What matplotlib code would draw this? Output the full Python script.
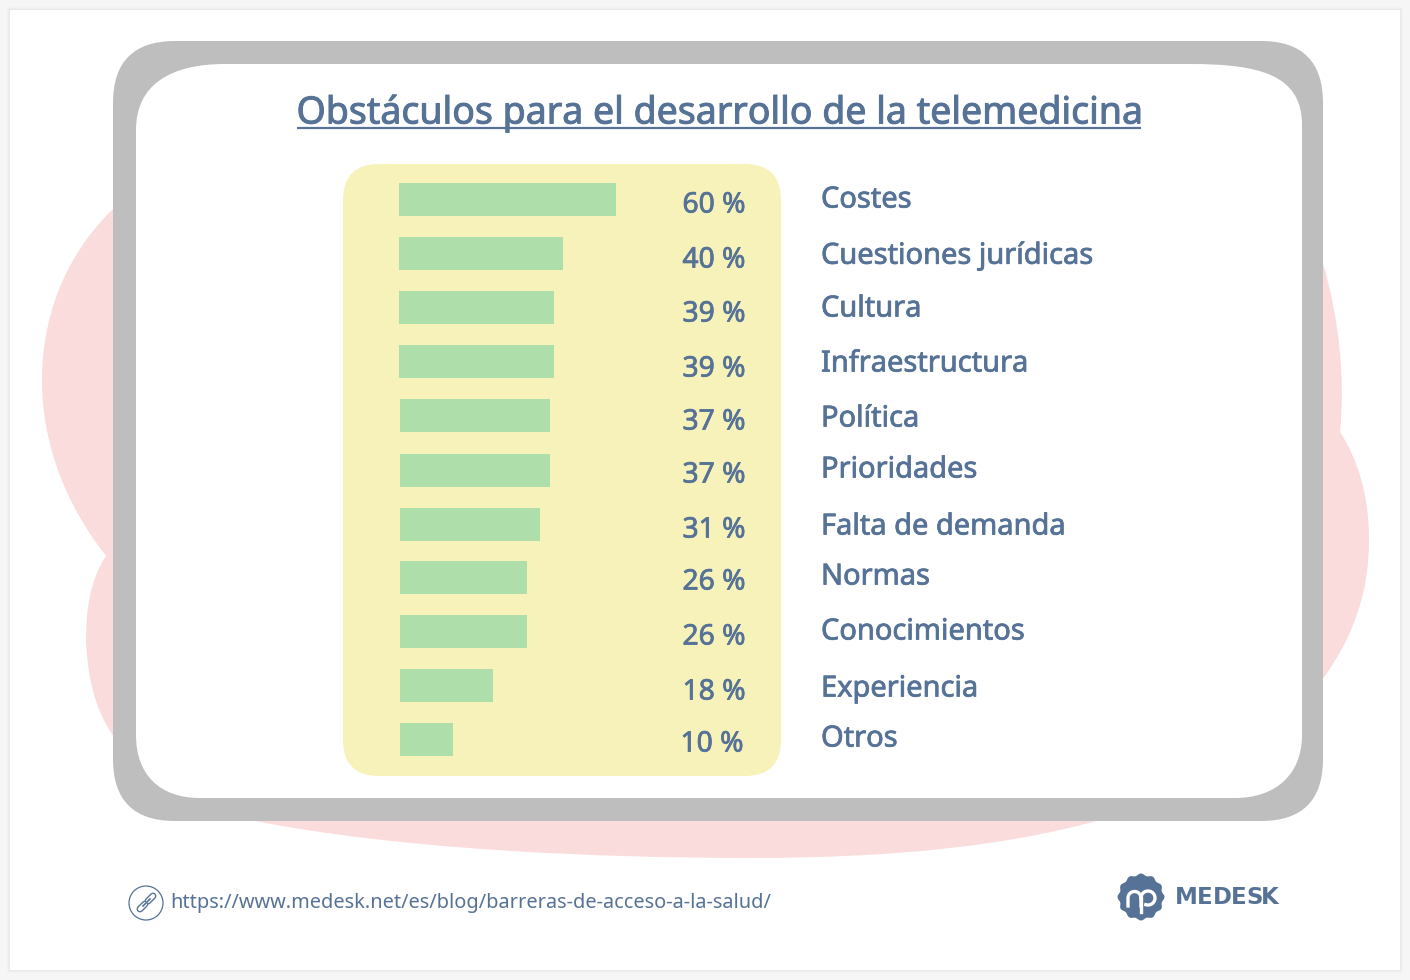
import numpy as np
import matplotlib
matplotlib.use('Agg')
import matplotlib.pyplot as plt
import matplotlib.patheffects as pe
from matplotlib.patches import FancyBboxPatch, PathPatch, Rectangle, Circle, Polygon
from matplotlib.path import Path

W, H = 1410, 980
plt.rcParams['font.family'] = ['Noto Sans', 'DejaVu Sans']

# chart data
categories = ['Costes', 'Cuestiones jurídicas', 'Cultura', 'Infraestructura', 'Política',
              'Prioridades', 'Falta de demanda', 'Normas', 'Conocimientos', 'Experiencia', 'Otros']
percent_labels = ['60 %', '40 %', '39 %', '39 %', '37 %', '37 %', '31 %', '26 %', '26 %', '18 %', '10 %']
# the drawn bars are not proportional to their labels, so lengths are kept apart (px)
bar_lengths = [217, 164, 155, 155, 150, 150, 140, 127, 127, 93, 53]
bar_tops = [183, 237, 291, 345, 399, 454, 508, 561, 615, 669, 723]
bar_lefts = [399, 399, 399, 399, 400, 400, 400, 400, 400, 400, 400]
percent_y = [205, 260, 314, 369, 422, 475, 530, 582, 637, 692, 744]
label_y = [200, 256, 309, 364, 419, 470, 527, 577, 632, 689, 739]

TEXT = '#567397'
PINK = '#f9dcdb'
GREY = '#bebebe'
YELLOW = '#f7f2b9'
GREEN = '#aedfab'

# Noto Sans has no semibold here, a thin outline thickens it
SEMI = [pe.withStroke(linewidth=0.55, foreground=TEXT)]


def rounded(ax, x0, y0, x1, y1, r, color, z):
    p = FancyBboxPatch((x0 + r, y0 + r), x1 - x0 - 2 * r, y1 - y0 - 2 * r,
                       boxstyle=f'round,pad={r},rounding_size={r}',
                       fc=color, ec='none', zorder=z)
    ax.add_patch(p)


fig = plt.figure(figsize=(W / 100, H / 100), dpi=100, facecolor='#f6f6f6')
ax = fig.add_axes([0, 0, 1, 1])
ax.set_xlim(0, W)
ax.set_ylim(H, 0)
ax.axis('off')

# page shadow
for i, c in enumerate(['#f3f3f3', '#eeeeee', '#e9e9e9']):
    ax.add_patch(Rectangle((7 + i, 7 + i), W - 14 - 2 * i, H - 14 - 2 * i, fc=c, ec='none', zorder=1))
ax.add_patch(Rectangle((10, 10), 1390, 960, fc='white', ec='none', zorder=2))

# pink blob behind the frame
blob_v = [(135, 190),
          (70, 240), (42, 310), (42, 380),
          (42, 450), (70, 510), (106, 556),
          (90, 580), (86, 610), (86, 640),
          (88, 690), (100, 720), (120, 745),
          (160, 790), (200, 810), (250, 820),
          (400, 850), (600, 858), (750, 858),
          (900, 858), (1010, 845), (1100, 820),
          (1200, 800), (1280, 730), (1322, 680),
          (1355, 635), (1369, 590), (1369, 540),
          (1369, 495), (1358, 460), (1340, 432),
          (1345, 380), (1340, 320), (1322, 260),
          (1290, 200), (1200, 150), (135, 190)]
blob_c = [Path.MOVETO] + [Path.CURVE4] * (len(blob_v) - 1)
ax.add_patch(PathPatch(Path(blob_v, blob_c), fc=PINK, ec='none', zorder=3))

# frame
rounded(ax, 113, 41, 1323, 821, 62, GREY, 4)
frame_v = [(136, 130), (136, 85), (170, 64), (225, 64),
           (500, 64), (900, 64), (1190, 64),
           (1260, 64), (1302, 75), (1302, 125),
           (1302, 735), (1302, 735), (1302, 735),
           (1302, 775), (1275, 798), (1235, 798),
           (200, 798), (200, 798), (200, 798),
           (160, 798), (136, 775), (136, 735),
           (136, 130), (136, 130), (136, 130)]
frame_c = [Path.MOVETO] + [Path.CURVE4] * (len(frame_v) - 1)
ax.add_patch(PathPatch(Path(frame_v, frame_c), fc='white', ec='none', zorder=5))

# yellow panel
rounded(ax, 343, 164, 781, 776, 36, YELLOW, 6)

# bars
ax.barh(bar_tops, bar_lengths, height=33, left=bar_lefts, align='edge', color=GREEN, zorder=7)

for y, s in zip(percent_y, percent_labels):
    x = 712 if s == '10 %' else 714
    ax.text(x, y, s, color=TEXT, fontsize=20.3, ha='center', va='center', zorder=8, path_effects=SEMI)
for y, s in zip(label_y, categories):
    ax.text(821, y, s, color=TEXT, fontsize=20.9, ha='left', va='center', zorder=8, path_effects=SEMI)

# title
ax.text(719, 113, 'Obstáculos para el desarrollo de la telemedicina', color=TEXT, fontsize=27,
        ha='center', va='center', zorder=8, path_effects=[pe.withStroke(linewidth=0.7, foreground=TEXT)])
ax.plot([297, 1141], [128.5, 128.5], color=TEXT, lw=1.6, zorder=8, solid_capstyle='butt')

# footer link
ax.text(170.5, 903, 'https://www.medesk.net/es/blog/barreras-de-acceso-a-la-salud/', color=TEXT,
        fontsize=14.37, ha='left', va='center', zorder=8)
ax.add_patch(Circle((146, 903), 17, fc='none', ec=TEXT, lw=0.9, zorder=8))
for xs, ys in [([140, 145], [909, 904]), ([148, 153], [901, 896])]:
    ax.plot(xs, ys, color=TEXT, lw=5, solid_capstyle='round', zorder=8)
    ax.plot(xs, ys, color='white', lw=3, solid_capstyle='round', zorder=9)
ax.plot([143, 150], [906, 899], color=TEXT, lw=1.2, zorder=10)

# logo
t = np.linspace(0, 2 * np.pi, 361)
r = 22.5 + 1.0 * np.cos(12 * t)
ax.add_patch(Polygon(np.c_[1141 + r * np.cos(t), 897 + r * np.sin(t)], fc=TEXT, ec='none', zorder=8))
a = np.linspace(np.pi, 2 * np.pi, 40)
ax.plot(np.r_[1128, 1128 + 6.5 * (1 + np.cos(a)), 1141],
        np.r_[906, 898 + 6.5 * np.sin(a), 906], color='white', lw=2.4, zorder=9)
b = np.linspace(np.pi, 2.6 * np.pi, 40)
ax.plot(np.r_[1141, 1148 + 7 * np.cos(b)],
        np.r_[906 - 8, 898 + 7 * np.sin(b)], color='white', lw=2.4, zorder=9)
ax.plot([1141, 1141], [898, 912], color='white', lw=2.4, zorder=9)
logo_letters = ['M', 'E', 'D', 'E', 'S', 'K']
logo_x = [1186, 1205, 1222, 1239, 1255, 1270]
for x, s in zip(logo_x, logo_letters):
    ax.text(x, 897, s, color=TEXT, fontsize=16.5, family='DejaVu Sans', fontweight='bold',
            ha='center', va='center', zorder=8)

fig.savefig('out.png', dpi=100, facecolor=fig.get_facecolor())
